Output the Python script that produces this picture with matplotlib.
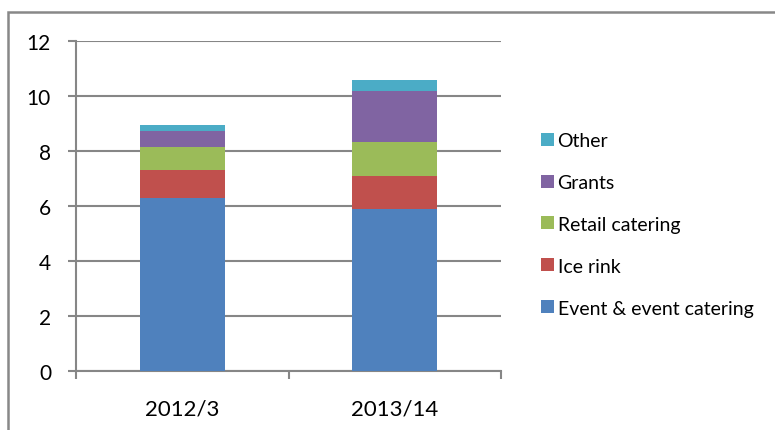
import matplotlib
matplotlib.use("Agg")
import matplotlib.pyplot as plt
from matplotlib.patches import Rectangle, Patch

plt.rcParams['font.family'] = ['Lato', 'DejaVu Sans']

categories = ["2012/3", "2013/14"]
series_names = ["Event & event catering", "Ice rink", "Retail catering", "Grants", "Other"]
event = [6.29, 5.87]
ice_rink = [1.02, 1.20]
retail = [0.84, 1.25]
grants = [0.55, 1.86]
other = [0.23, 0.38]
colors = ["#4F81BD", "#C0504D", "#9BBB59", "#8064A2", "#4BACC6"]
yticks = [0, 2, 4, 6, 8, 10, 12]

series = [event, ice_rink, retail, grants, other]

fig = plt.figure(figsize=(7.75, 4.31), dpi=100)
W, H = 775, 431
ax = fig.add_axes([76 / W, 1 - 371.7 / H, (501 - 76) / W, (371.7 - 41.7) / H])

x = list(range(len(categories)))
bottom = [0.0] * len(categories)
for vals, c, name in zip(series, colors, series_names):
    ax.bar(x, vals, width=0.4, bottom=bottom, color=c, label=name, zorder=3)
    bottom = [b + v for b, v in zip(bottom, vals)]

grid_c = "#868686"
ax.set_ylim(0, 12)
ax.set_xlim(-0.5, len(categories) - 0.5)
ax.set_yticks(yticks)
ax.set_yticklabels([str(t) for t in yticks])
ax.yaxis.grid(True, color=grid_c, linewidth=1.5, zorder=0)
ax.set_axisbelow(True)

ax.set_xticks([i - 0.5 for i in range(len(categories) + 1)])
ax.set_xticklabels([""] * (len(categories) + 1))
ax.set_xticks(x, minor=True)
ax.set_xticklabels(categories, minor=True)
ax.tick_params(axis='x', which='minor', length=0, pad=20, labelsize=16)
ax.tick_params(axis='x', which='major', length=6, color=grid_c, width=1.5, direction='out')
ax.tick_params(axis='y', length=6, color=grid_c, width=1.5, direction='out', pad=12, labelsize=15)

for s in ['top', 'right']:
    ax.spines[s].set_visible(False)
for s in ['left', 'bottom']:
    ax.spines[s].set_color(grid_c)
    ax.spines[s].set_linewidth(1.5)

handles = [Patch(facecolor=c, edgecolor='none') for c in colors][::-1]
labels = series_names[::-1]
fig.legend(handles, labels, loc='center left', bbox_to_anchor=(541 / W, 1 - 225.3 / H),
           frameon=False, fontsize=14, handlelength=0.65, handleheight=0.65,
           handletextpad=0.2, labelspacing=1.28, borderpad=0, borderaxespad=0)

fig.patches.append(Rectangle((7.5 / W, -0.2), 1.2, 1.2 - 12.5 / H, transform=fig.transFigure,
                             fill=False, edgecolor="#888888", linewidth=1.8))

fig.savefig("out.png", dpi=100)
